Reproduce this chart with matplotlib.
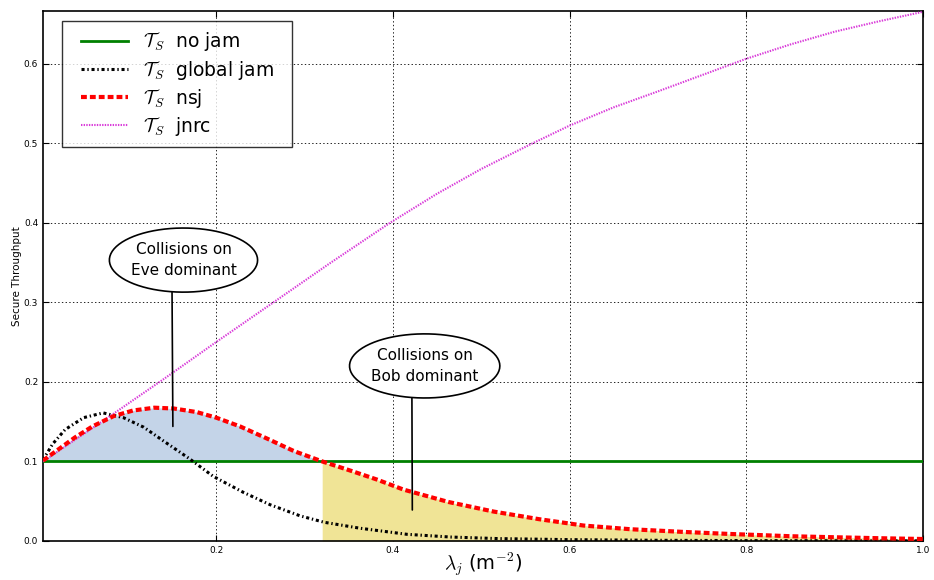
import numpy as np
import matplotlib
matplotlib.use('Agg')
import matplotlib.pyplot as plt
from matplotlib.path import Path

plt.rcParams['mathtext.fontset'] = 'cm'
plt.rcParams['lines.scale_dashes'] = False

# values (x = lambda_j, y = secure throughput)
x_nojam = [0.004, 1.0]
y_nojam = [0.1, 0.1]

x_global = [0.004, 0.015, 0.029, 0.05, 0.072, 0.095, 0.118, 0.14, 0.169, 0.197,
            0.231, 0.261, 0.295, 0.322, 0.363, 0.416, 0.465, 0.52, 0.6, 0.7,
            0.8, 0.9, 1.0]
y_global = [0.102, 0.122, 0.140, 0.155, 0.161, 0.155, 0.143, 0.126, 0.104, 0.081,
            0.061, 0.0456, 0.0316, 0.0236, 0.016, 0.0084, 0.005, 0.003, 0.0017, 0.0009,
            0.0005, 0.0003, 0.0002]

x_nsj = [0.004, 0.02, 0.04, 0.06, 0.084, 0.106, 0.13, 0.152, 0.178, 0.2,
         0.227, 0.257, 0.288, 0.32, 0.354, 0.382, 0.412, 0.463, 0.514, 0.565,
         0.616, 0.669, 0.729, 0.78, 0.85, 0.9, 0.95, 1.0]
y_nsj = [0.101, 0.114, 0.130, 0.144, 0.157, 0.164, 0.1675, 0.1665, 0.162, 0.155,
         0.144, 0.129, 0.113, 0.1, 0.0877, 0.0772, 0.0646, 0.049, 0.037, 0.0275,
         0.0194, 0.0148, 0.0114, 0.0089, 0.006, 0.0047, 0.0035, 0.0025]

x_jnrc = [0.004, 0.04, 0.076, 0.14, 0.2, 0.265, 0.33, 0.397, 0.45, 0.5,
          0.556, 0.6, 0.65, 0.7, 0.75, 0.8, 0.85, 0.9, 0.95, 1.0]
y_jnrc = [0.100, 0.127, 0.154, 0.203, 0.250, 0.300, 0.350, 0.400, 0.4364, 0.4675,
          0.4986, 0.522, 0.545, 0.565, 0.5855, 0.606, 0.624, 0.640, 0.653, 0.665]

x_cross = 0.32   # nsj falls below no jam here

labels = [r'$\mathcal{T}_S$  no jam', r'$\mathcal{T}_S$  global jam',
          r'$\mathcal{T}_S$  nsj', r'$\mathcal{T}_S$  jnrc']

fig = plt.figure(figsize=(9.34, 5.8), dpi=100)
ax = fig.add_axes([43 / 934, 39 / 580, 880 / 934, 530 / 580])

xn = np.array(x_nsj)
yn = np.array(y_nsj)
m1 = xn <= x_cross
m2 = xn >= x_cross
ax.fill_between(xn[m1], y_nojam[0], yn[m1], color='#c4d4e8', lw=0, zorder=1)
ax.fill_between(xn[m2], 0, yn[m2], color='#f0e496', lw=0, zorder=1)

ax.plot(x_nojam, y_nojam, color='#008000', lw=2, label=labels[0], zorder=3)
ax.plot(x_global, y_global, color='k', lw=2.2, dashes=(2.2, 2, 1, 2), label=labels[1], zorder=3)
ax.plot(x_nsj, y_nsj, color='#ff0000', lw=3, dashes=(4.2, 2.2), label=labels[2], zorder=4)
ax.plot(x_jnrc, y_jnrc, color='#d93ad9', lw=1.5, dashes=(1, 0.9), label=labels[3], zorder=3)

ax.set_xlim(0.004, 1.0)
ax.set_ylim(0, 0.666)
ax.set_xticks([0.2, 0.4, 0.6, 0.8, 1.0])
ax.set_yticks([0.0, 0.1, 0.2, 0.3, 0.4, 0.5, 0.6])
ax.tick_params(direction='in', top=True, right=True, labelsize=6.5, length=4, width=0.8)
ax.grid(True, color='k', linestyle=':', lw=0.6)
ax.set_axisbelow(True)
for s in ax.spines.values():
    s.set_linewidth(1.2)

ax.set_xlabel(r'$\lambda_j$ (m$^{-2}$)', fontsize=14, labelpad=-3)
ax.set_ylabel('Secure Throughput', fontsize=7.5, labelpad=1)


def oval(x0, y0, width, height, mutation_size):
    # wide ellipse around the two text lines
    a = 0.7 * width
    b = 0.5 * height + 0.9 * mutation_size
    cx, cy = x0 + width / 2, y0 + height / 2
    t = np.linspace(0, 2 * np.pi, 80)
    return Path(np.column_stack([cx + a * np.cos(t), cy + b * np.sin(t)]), closed=True)


eb = dict(boxstyle=oval, fc='w', ec='k', lw=1.2)
ax.annotate('Collisions on\nEve dominant', xy=(0.151, 0.144), xytext=(0.163, 0.353),
            ha='center', va='center', fontsize=11, linespacing=1.55, bbox=eb, zorder=6,
            arrowprops=dict(arrowstyle='-', color='k', lw=1.2, relpos=(0.39, 0.5),
                            shrinkA=0, shrinkB=0))
ax.annotate('Collisions on\nBob dominant', xy=(0.422, 0.039), xytext=(0.436, 0.220),
            ha='center', va='center', fontsize=11, linespacing=1.55, bbox=eb, zorder=6,
            arrowprops=dict(arrowstyle='-', color='k', lw=1.2, relpos=(0.38, 0.5),
                            shrinkA=0, shrinkB=0))


def wide_box(x0, y0, width, height, mutation_size):
    # legend frame with more room left and right than top and bottom
    px = 0.5 * mutation_size
    return Path([(x0 - px, y0), (x0 + width + px, y0), (x0 + width + px, y0 + height),
                 (x0 - px, y0 + height), (x0 - px, y0)], closed=True)


leg = ax.legend(loc='upper left', bbox_to_anchor=(0.0326, 0.981), borderaxespad=0,
                fontsize=13.5, fancybox=False, handlelength=2.5, handletextpad=0.8,
                borderpad=0.5, labelspacing=0.27)
leg.get_frame().set_edgecolor('k')
leg.get_frame().set_linewidth(1.0)
leg.get_frame().set_boxstyle(wide_box)
leg.set_zorder(7)

fig.savefig('out.png', dpi=100)
